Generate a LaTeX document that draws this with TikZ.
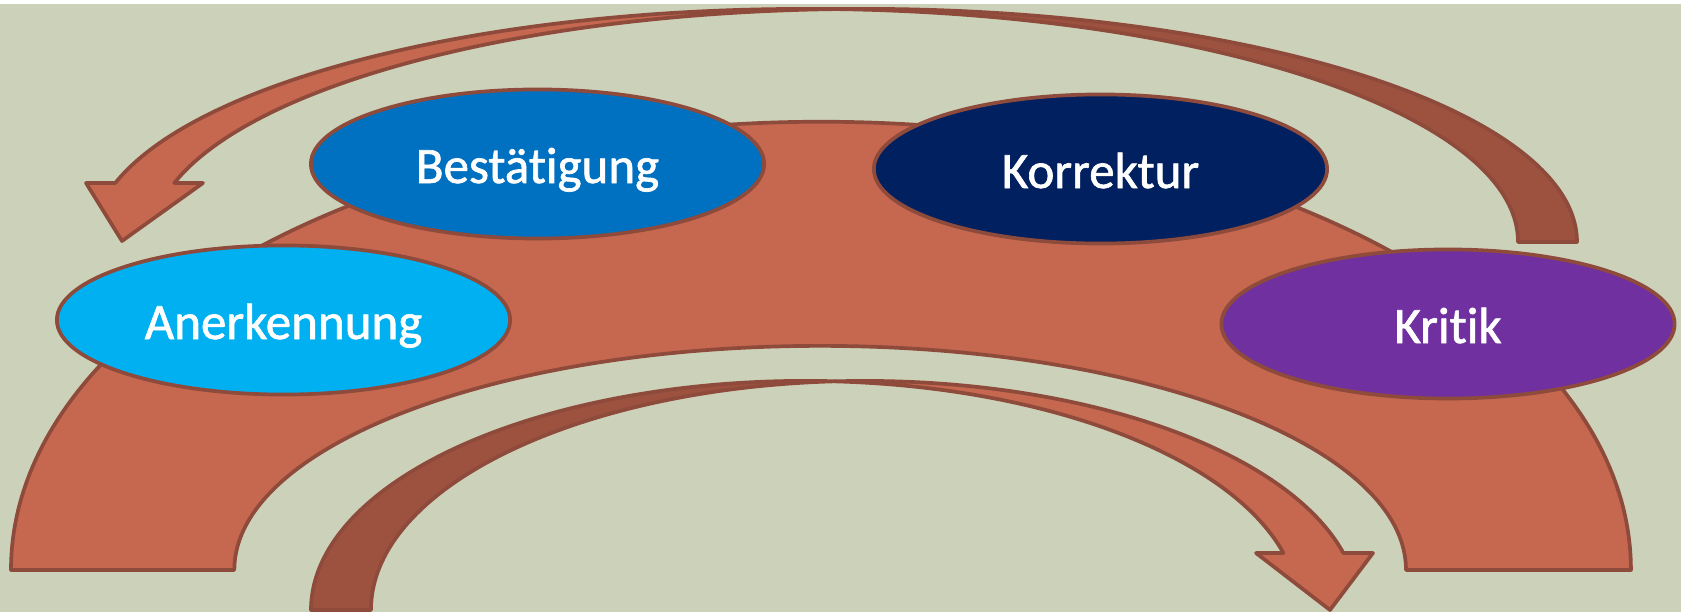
\documentclass[tikz,border=0pt]{standalone}
\usepackage{fontspec}
\setmainfont{Carlito}[Ligatures=NoCommon]
\newfontfamily\bubblefont{Carlito}[Ligatures=NoCommon, FakeBold=1.3]
\usetikzlibrary{shapes.geometric}
\definecolor{bg}{HTML}{CCD1B9}
\definecolor{rust}{HTML}{C5684F}
\definecolor{rustdark}{HTML}{9D5240}
\definecolor{rustline}{HTML}{8E4A3A}
\definecolor{cAner}{HTML}{00B0F0}
\definecolor{cBest}{HTML}{0070C0}
\definecolor{cKorr}{HTML}{002060}
\definecolor{cKrit}{HTML}{7030A0}
\tikzset{
  band/.style={fill=rust, draw=rustline, line width=1.05pt, line join=round},
  backband/.style={fill=rustdark, draw=rustline, line width=1.05pt, line join=round},
  bubble/.style={ellipse, draw=rustline, line width=1.05pt, inner sep=0pt,
    minimum width=4.53cm, minimum height=1.49cm, text=white,
    font=\bubblefont\fontsize{14.5pt}{17pt}\selectfont, text height=0.38cm, text depth=0pt},
  topA/.style={x radius=7.13cm, y radius=2.33cm},
  botA/.style={x radius=4.94cm, y radius=2.29cm}
}
\begin{document}
\begin{tikzpicture}[x=0.01cm,y=0.01cm]
\useasboundingbox (0,0) rectangle (1681,612);
\fill[white] (0,0) rectangle (1681,612);
\fill[bg] (0,0) rectangle (1681,608);

% block arc
\path[band] (11,42) arc[start angle=180,end angle=0,x radius=8.095cm,y radius=4.48cm]
  -- (1406,42) arc[start angle=0,end angle=180,x radius=5.855cm,y radius=2.24cm] -- cycle;

% top curved arrow (tail right, head left)
\path[backband] (1577,370) arc[start angle=0,end angle=92.37,topA]
  arc[start angle=87.63,end angle=0,topA] -- cycle;
\path[band] (122,371) -- (86,429) -- (115.3,429)
  arc[start angle=165.33,end angle=87.63,topA]
  arc[start angle=92.37,end angle=165.33,topA] -- (203,429) -- cycle;

% bottom curved arrow (tail left, head right)
\path[backband] (311,2) arc[start angle=180,end angle=86.52,botA]
  arc[start angle=93.48,end angle=180,botA] -- cycle;
\path[band] (1330,2) -- (1256,59) -- (1283.4,59)
  arc[start angle=14.42,end angle=86.52,botA]
  arc[start angle=93.48,end angle=14.42,botA] -- (1373,59) -- cycle;

% ellipses
\node[bubble, fill=cAner] (aner) at (283.5,292) {Anerkennung};
\node[bubble, fill=cBest] (best) at (537.5,448) {Bestätigung};
\node[bubble, fill=cKorr] (korr) at (1100.5,443) {Korrektur};
\node[bubble, fill=cKrit] (krit) at (1448,288) {Kritik};
\end{tikzpicture}
\end{document}
